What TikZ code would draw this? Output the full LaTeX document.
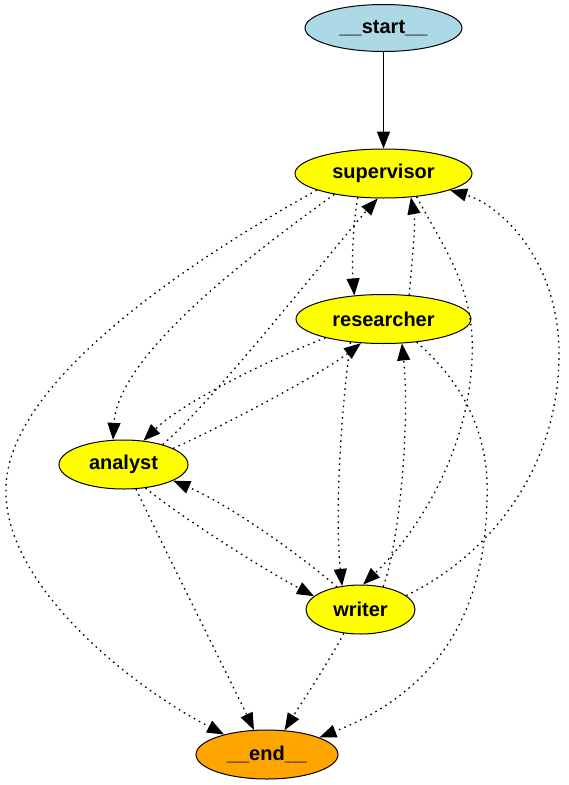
\documentclass[tikz,border=0pt]{standalone}
\usepackage{fontspec}
\setmainfont{Liberation Sans}
\usetikzlibrary{arrows.meta,shapes.geometric}
\definecolor{cstart}{HTML}{ADD8E6}
\definecolor{cagent}{HTML}{FFFF00}
\definecolor{cend}{HTML}{FFA500}

\begin{document}
\begin{tikzpicture}[x=1pt, y=-1pt,
                    font=\fontsize{20}{24}\selectfont\bfseries,
                    tip/.style={-{Triangle[length=17pt,width=13pt]}},
                    box/.style={ellipse, draw, line width=1pt, inner sep=0pt, minimum height=49pt},
                    agent/.style={box, fill=cagent},
                    cond/.style={tip, line width=1.3pt, dash pattern=on 1.6pt off 4.2pt}]
  \useasboundingbox (0,0) rectangle (568,785);
  % nodes, one rank every 145.5
  \node[box, fill=cstart, minimum width=157pt, minimum height=47pt] (start) at (383.5,28) {\_\_start\_\_};
  \node[agent, minimum width=177pt] (sup) at (383.5,173.5) {supervisor};
  \node[agent, minimum width=175pt] (res) at (383.5,319) {researcher};
  \node[agent, minimum width=129pt] (ana) at (123.5,464.5) {analyst};
  \node[agent, minimum width=109pt] (wri) at (360.5,609.5) {writer};
  \node[box, fill=cend, minimum width=142pt] (end) at (267,754.5) {\_\_end\_\_};
  % bends of the long routes
  \coordinate (bendL) at (6,490);
  \coordinate (bendR) at (559,360);
  \coordinate (bendM) at (472,360);
  \coordinate (bendE) at (487,500);
  % entry edge
  \draw[tip, line width=1.1pt] (start) -- (sup);
  % supervisor routes
  \draw[cond] (sup.194) .. controls (200,255) and (5,380) .. (bendL)
                        .. controls (4,580) and (120,680) .. (end.155);
  \draw[cond] (sup.203) .. controls (250,255) and (118,355) .. (ana.113);
  \draw[cond] (sup.223) .. controls (352,230) and (352,265) .. (res.141);
  \draw[cond] (sup.325) .. controls (445,250) and (476,290) .. (bendM)
                        .. controls (468,450) and (420,530) .. (wri.84);
  % researcher routes
  \draw[cond] (res.43) .. controls (412,260) and (416,225) .. (sup.319);
  \draw[cond] (res.198) .. controls (280,355) and (185,400) .. (ana.50);
  \draw[cond] (res.215) .. controls (340,420) and (335,520) .. (wri.128);
  \draw[cond] (res.325) .. controls (460,380) and (490,430) .. (bendE)
                        .. controls (485,610) and (440,690) .. (end.18);
  % analyst routes
  \draw[cond] (ana.27) .. controls (215,400) and (340,240) .. (sup.257);
  \draw[cond] (ana.18) .. controls (215,430) and (320,375) .. (res.227);
  \draw[cond] (ana.313) .. controls (185,520) and (265,570) .. (wri.164);
  \draw[cond] (ana.297) .. controls (160,540) and (235,690) .. (end.118);
  % writer routes
  \draw[cond] (wri.17) .. controls (480,560) and (556,480) .. (bendR)
                       .. controls (561,260) and (500,205) .. (sup.346);
  \draw[cond] (wri.45) .. controls (400,540) and (410,420) .. (res.307);
  \draw[cond] (wri.136) .. controls (300,555) and (230,505) .. (ana.342);
  \draw[cond] (wri.235) .. controls (330,660) and (300,705) .. (end.54);
\end{tikzpicture}
\end{document}
